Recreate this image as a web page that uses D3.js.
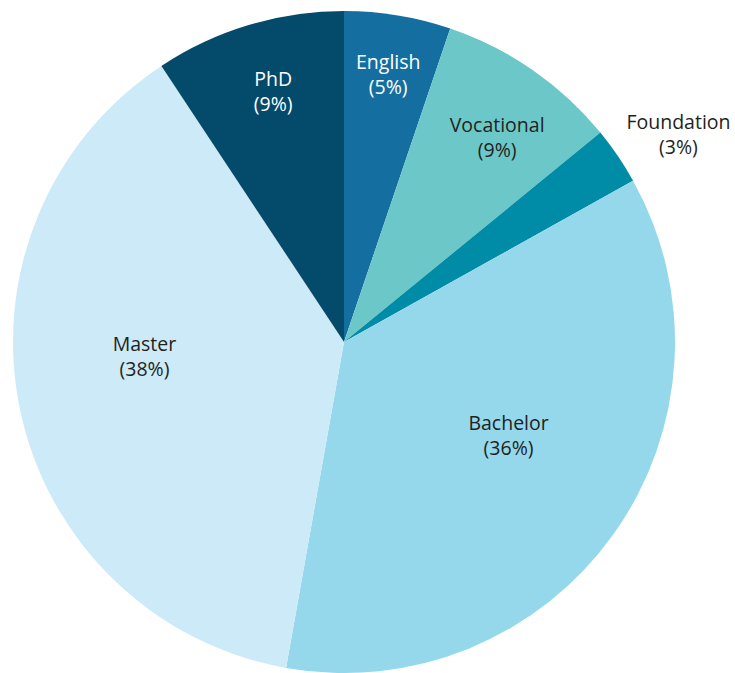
<!DOCTYPE html>
<html>
<head>
<meta charset="utf-8">
<script src="https://cdn.jsdelivr.net/npm/d3@7"></script>
<style>
  html, body { margin: 0; padding: 0; background: #fff; }
  svg text { font-family: "Open Sans", "Noto Sans", sans-serif; font-size: 19.5px; }
</style>
</head>
<body>
<svg id="chart" width="735" height="673"></svg>
<script>
// slices, clockwise from 12 o'clock
const categories = ['English', 'Vocational', 'Foundation', 'Bachelor', 'Master', 'PhD'];
const shares = [5.2, 8.9, 2.8, 35.9, 37.9, 9.3];
const labels = ['(5%)', '(9%)', '(3%)', '(36%)', '(38%)', '(9%)'];

const colors = ['#146fa0', '#6cc8c8', '#008ba7', '#95d8ec', '#cdeaf9', '#034a6b'];
const textColors = ['#fff', '#231f20', '#231f20', '#231f20', '#231f20', '#fff'];
// label placement: distance from centre and angle nudge (deg)
const labelR = [272, 256, 394, 189, 200, 261];
const labelNudge = [0, 2, 2.3, -6, 7.8, 1];

const W = 735, H = 673;
const cx = 344, cy = 342, R = 331;

const svg = d3.select('#chart');
const g = svg.append('g').attr('transform', `translate(${cx},${cy})`);

const pie = d3.pie().sort(null).value(d => d.v);
const data = categories.map((c, i) => ({ name: c, v: shares[i], i }));
const arcs = pie(data);

const arc = d3.arc().innerRadius(0).outerRadius(R);

g.selectAll('path')
  .data(arcs)
  .join('path')
  .attr('d', arc)
  .attr('fill', d => colors[d.data.i]);

// labels
const lab = g.selectAll('g.lab')
  .data(arcs)
  .join('g')
  .attr('class', 'lab')
  .attr('transform', d => {
    const i = d.data.i;
    const a = (d.startAngle + d.endAngle) / 2 + labelNudge[i] * Math.PI / 180;
    const r = labelR[i];
    return `translate(${r * Math.sin(a)},${-r * Math.cos(a)})`;
  });

lab.append('text')
  .attr('text-anchor', 'middle')
  .attr('y', -5)
  .attr('fill', d => textColors[d.data.i])
  .text(d => d.data.name);

lab.append('text')
  .attr('text-anchor', 'middle')
  .attr('y', 20)
  .attr('fill', d => textColors[d.data.i])
  .text(d => labels[d.data.i]);
</script>
</body>
</html>
